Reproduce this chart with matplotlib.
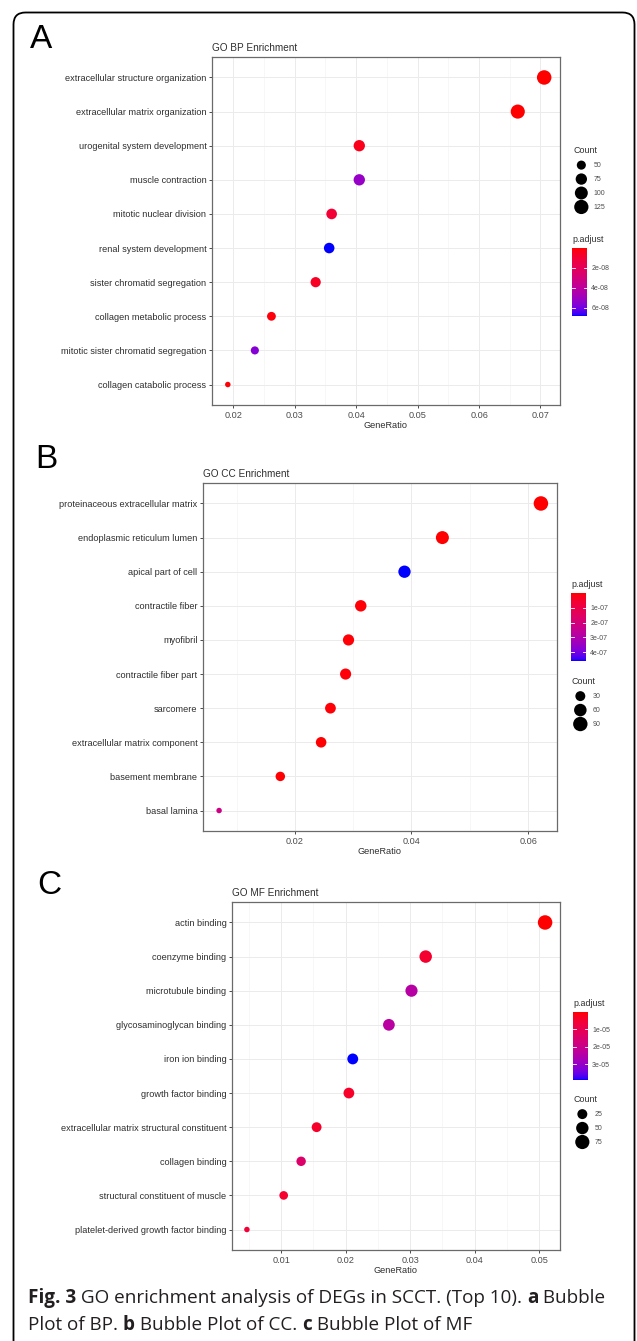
import numpy as np
import matplotlib
matplotlib.use("Agg")
import matplotlib.pyplot as plt
from matplotlib.colors import ListedColormap, Normalize
from matplotlib.patches import FancyBboxPatch
from matplotlib.ticker import AutoMinorLocator, FixedLocator

# ---------------- data ----------------
bp_terms = ["extracellular structure organization", "extracellular matrix organization",
            "urogenital system development", "muscle contraction", "mitotic nuclear division",
            "renal system development", "sister chromatid segregation", "collagen metabolic process",
            "mitotic sister chromatid segregation", "collagen catabolic process"]
bp_ratio = [0.0706, 0.0663, 0.0405, 0.0405, 0.0360, 0.0356, 0.0334, 0.0262, 0.0235, 0.0191]
bp_count = [130, 122, 75, 75, 66, 65, 61, 48, 43, 35]
bp_padj = [1e-12, 5e-12, 3.5e-09, 5.2e-08, 1.0e-08, 6.8e-08, 5.5e-09, 1.5e-09, 5.6e-08, 1e-09]
bp_xticks = [0.02, 0.03, 0.04, 0.05, 0.06, 0.07]
bp_count_breaks = [50, 75, 100, 125]
bp_padj_ticks = [2e-08, 4e-08, 6e-08]
bp_padj_labels = ["2e-08", "4e-08", "6e-08"]

cc_terms = ["proteinaceous extracellular matrix", "endoplasmic reticulum lumen", "apical part of cell",
            "contractile fiber", "myofibril", "contractile fiber part", "sarcomere",
            "extracellular matrix component", "basement membrane", "basal lamina"]
cc_ratio = [0.0622, 0.0453, 0.0388, 0.0313, 0.0292, 0.0287, 0.0261, 0.0245, 0.0175, 0.0070]
cc_count = [92, 67, 57, 46, 43, 42, 38, 36, 26, 10]
cc_padj = [1e-12, 2e-09, 4.6e-07, 5e-09, 4e-09, 6e-09, 5e-09, 3e-09, 2e-09, 2.2e-07]
cc_xticks = [0.02, 0.04, 0.06]
cc_count_breaks = [30, 60, 90]
cc_padj_ticks = [1e-07, 2e-07, 3e-07, 4e-07]
cc_padj_labels = ["1e-07", "2e-07", "3e-07", "4e-07"]

mf_terms = ["actin binding", "coenzyme binding", "microtubule binding", "glycosaminoglycan binding",
            "iron ion binding", "growth factor binding", "extracellular matrix structural constituent",
            "collagen binding", "structural constituent of muscle", "platelet-derived growth factor binding"]
mf_ratio = [0.0509, 0.0324, 0.0302, 0.0267, 0.0211, 0.0205, 0.0155, 0.0131, 0.0104, 0.0047]
mf_count = [80, 51, 47, 42, 33, 32, 24, 21, 16, 7]
mf_padj = [1e-10, 4.5e-06, 2.4e-05, 2.35e-05, 3.9e-05, 3.9e-06, 4.0e-06, 1.4e-05, 4.7e-06, 6.0e-06]
mf_xticks = [0.01, 0.02, 0.03, 0.04, 0.05]
mf_count_breaks = [25, 50, 75]
mf_padj_ticks = [1e-05, 2e-05, 3e-05]
mf_padj_labels = ["1e-05", "2e-05", "3e-05"]

caption_line1 = [("Fig. 3", "bold"), (" GO enrichment analysis of DEGs in SCCT. (Top 10). ", "normal"),
                 ("a", "bold"), (" Bubble", "normal")]
caption_line2 = [("Plot of BP. ", "normal"), ("b", "bold"), (" Bubble Plot of CC. ", "normal"),
                 ("c", "bold"), (" Bubble Plot of MF", "normal")]

# ---------------- style helpers ----------------
W, H = 637, 1341
fig = plt.figure(figsize=(W / 100, H / 100), dpi=100)

FAM = ["Liberation Sans", "DejaVu Sans"]
LAB_FS = 6.6


def srgb_to_lab(rgb):
    rgb = np.asarray(rgb, float)
    lin = np.where(rgb <= 0.04045, rgb / 12.92, ((rgb + 0.055) / 1.055) ** 2.4)
    M = np.array([[0.4124, 0.3576, 0.1805], [0.2126, 0.7152, 0.0722], [0.0193, 0.1192, 0.9505]])
    xyz = M @ lin / np.array([0.95047, 1.0, 1.08883])
    f = np.where(xyz > (6 / 29) ** 3, np.cbrt(xyz), xyz / (3 * (6 / 29) ** 2) + 4 / 29)
    return np.array([116 * f[1] - 16, 500 * (f[0] - f[1]), 200 * (f[1] - f[2])])


def lab_to_srgb(lab):
    L, a, b = lab
    fy = (L + 16) / 116
    fx = fy + a / 500
    fz = fy - b / 200
    f = np.array([fx, fy, fz])
    xyz = np.where(f > 6 / 29, f ** 3, 3 * (6 / 29) ** 2 * (f - 4 / 29)) * np.array([0.95047, 1.0, 1.08883])
    Minv = np.linalg.inv(np.array([[0.4124, 0.3576, 0.1805], [0.2126, 0.7152, 0.0722], [0.0193, 0.1192, 0.9505]]))
    lin = np.clip(Minv @ xyz, 0, 1)
    rgb = np.where(lin <= 0.0031308, 12.92 * lin, 1.055 * lin ** (1 / 2.4) - 0.055)
    return np.clip(rgb, 0, 1)


lab_r = srgb_to_lab([1, 0, 0])
lab_b = srgb_to_lab([0, 0, 1])
cmap = ListedColormap([lab_to_srgb(lab_r + (lab_b - lab_r) * t) for t in np.linspace(0, 1, 256)])


def px_rect(x0, y0, x1, y1):
    return [x0 / W, 1 - y1 / H, (x1 - x0) / W, (y1 - y0) / H]


def size_pts(c, cmin, cmax, dmin=5.5, dmax=14.5):
    t = np.clip((np.asarray(c, float) - cmin) / (cmax - cmin), 0, 1)
    d_px = dmin + (dmax - dmin) * np.sqrt(t)
    return (d_px * 72 / 100) ** 2


TXT = "#2e2e2e"
GRID = "#ebebeb"


def panel(letter, letter_xy, rect, title, terms, ratio, count, padj, xticks, cbreaks, pticks, plabels,
          count_top, padj_top, legend_x):
    x0, y0, x1, y1 = rect
    ax = fig.add_axes(px_rect(x0, y0, x1, y1))
    n = len(terms)
    ypos = np.arange(n)
    cmin, cmax = min(count), max(count)
    norm = Normalize(vmin=min(padj), vmax=max(padj))
    sc = ax.scatter(ratio, ypos, s=size_pts(count, cmin, cmax), c=padj, cmap=cmap, norm=norm,
                    edgecolors="none", zorder=3)
    rng = max(ratio) - min(ratio)
    ax.set_xlim(min(ratio) - 0.05 * rng, max(ratio) + 0.05 * rng)
    ax.set_ylim(n - 0.4, -0.6)
    ax.set_yticks(ypos)
    ax.set_yticklabels(terms, fontsize=LAB_FS, family=FAM, color=TXT)
    ax.xaxis.set_major_locator(FixedLocator(xticks))
    ax.set_xticklabels([f"{v:g}" for v in xticks], fontsize=LAB_FS, family=FAM, color="#4d4d4d")
    ax.xaxis.set_minor_locator(AutoMinorLocator(2))
    ax.grid(True, which="major", color=GRID, lw=0.7, zorder=0)
    ax.grid(True, which="minor", axis="x", color="#f4f4f4", lw=0.5, zorder=0)
    ax.set_axisbelow(True)
    ax.tick_params(axis="both", which="major", length=2.5, width=0.6, color=TXT, pad=1.5)
    ax.tick_params(axis="x", which="minor", length=0)
    for sp in ax.spines.values():
        sp.set_color("#6a6a6a")
        sp.set_linewidth(0.9)
    ax.set_xlabel("GeneRatio", fontsize=LAB_FS, family=FAM, color=TXT, labelpad=1)
    ax.set_title(title, loc="left", fontsize=7.2, family=FAM, color=TXT, pad=4)
    fig.text(letter_xy[0] / W, 1 - letter_xy[1] / H, letter, fontsize=24, family="Liberation Sans",
             ha="center", va="center", color="black")

    # colour bar
    cb_top = padj_top + 8
    cax = fig.add_axes(px_rect(legend_x, cb_top, legend_x + 15, cb_top + 68))
    cb = fig.colorbar(sc, cax=cax)
    cax.invert_yaxis()
    cb.outline.set_visible(False)
    cb.set_ticks(pticks)
    cb.set_ticklabels(plabels)
    cax.tick_params(length=0, labelsize=5.0, labelcolor="#4d4d4d", pad=3)
    for lab in cax.get_yticklabels():
        lab.set_family(FAM)
    for v in pticks:
        cax.axhline(v, xmin=0, xmax=0.2, color="white", lw=0.6)
        cax.axhline(v, xmin=0.8, xmax=1, color="white", lw=0.6)
    fig.text(legend_x / W, 1 - (padj_top + 4) / H, "p.adjust", fontsize=6.4, family=FAM,
             color=TXT, ha="left", va="bottom")

    # size legend
    handles = [ax.scatter([], [], s=size_pts(c, cmin, cmax), color="black", edgecolors="none") for c in cbreaks]
    leg = fig.legend(handles, [str(c) for c in cbreaks], title="Count", loc="upper left",
                     bbox_to_anchor=((legend_x + 1) / W, 1 - count_top / H), frameon=False,
                     title_fontsize=6.4, labelspacing=1.0,
                     handletextpad=0.6, borderpad=0, borderaxespad=0, handlelength=2.4,
                     alignment="left", prop={"family": FAM, "size": 5.0})
    leg.get_title().set_family(FAM)
    leg.get_title().set_color(TXT)
    for t in leg.get_texts():
        t.set_color("#4d4d4d")
    return ax


panel("A", (41, 40), (212, 57, 560, 405), "GO BP Enrichment", bp_terms, bp_ratio, bp_count, bp_padj,
      bp_xticks, bp_count_breaks, bp_padj_ticks, bp_padj_labels, 146, 240, 572)
panel("B", (46, 460), (203, 483, 557, 831), "GO CC Enrichment", cc_terms, cc_ratio, cc_count, cc_padj,
      cc_xticks, cc_count_breaks, cc_padj_ticks, cc_padj_labels, 677, 585, 571)
panel("C", (49, 885), (232, 902, 560, 1250), "GO MF Enrichment", mf_terms, mf_ratio, mf_count, mf_padj,
      mf_xticks, mf_count_breaks, mf_padj_ticks, mf_padj_labels, 1095, 1004, 573)

# frame
bg = fig.add_axes([0, 0, 1, 1], zorder=-10)
bg.set_xlim(0, W)
bg.set_ylim(H, 0)
bg.axis("off")
bg.add_patch(FancyBboxPatch((13.5, 12.5), 621, 1340, boxstyle="round,pad=0,rounding_size=12",
                            fc="white", ec="black", lw=1.3))

# caption (rich text)
fig.canvas.draw()
renderer = fig.canvas.get_renderer()
CAP_FAM = ["Open Sans", "DejaVu Sans"]


def rich(parts, x_px, y_px, fs):
    x = x_px
    for txt, wt in parts:
        t = fig.text(x / W, 1 - y_px / H, txt, fontsize=fs, fontweight=wt, family=CAP_FAM,
                     ha="left", va="center", color="#231f20")
        x += t.get_window_extent(renderer).width
    return x


probes = [fig.text(0, 0, p, fontsize=12, fontweight=w, family=CAP_FAM) for p, w in caption_line1]
probe = sum(t.get_window_extent(renderer).width for t in probes)
for t in probes:
    t.remove()
cap_fs = 12 * 574 / probe
rich(caption_line1, 28, 1298, cap_fs)
rich(caption_line2, 28, 1325, cap_fs)

fig.savefig("out.png", dpi=100)
